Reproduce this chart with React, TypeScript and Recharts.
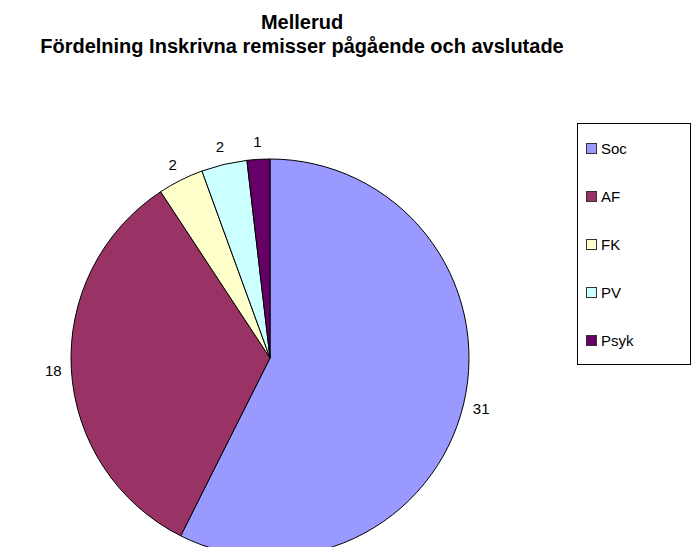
import React from "react";
import { PieChart, Pie, Cell } from "recharts";

const categories = ["Soc", "AF", "FK", "PV", "Psyk"];
const values = [31, 18, 2, 2, 1];
const colors = ["#9999FF", "#993366", "#FFFFCC", "#CCFFFF", "#660066"];
const titleLines = ["Mellerud", "Fördelning Inskrivna remisser pågående och avslutade"];

const data = categories.map((name, i) => ({ name, value: values[i] }));
const FONT = "'Liberation Sans', Arial, sans-serif";
const RAD = Math.PI / 180;

const renderLabel = (props: any) => {
  const { cx, cy, midAngle, outerRadius, value } = props;
  const r = outerRadius + 18;
  const x = cx + r * Math.cos(-midAngle * RAD);
  const y = cy + r * Math.sin(-midAngle * RAD);
  return (
    <text
      x={x}
      y={y}
      textAnchor="middle"
      dominantBaseline="central"
      fontFamily={FONT}
      fontSize={15}
      fill="#000"
    >
      {value}
    </text>
  );
};

export default function App() {
  return (
    <div style={{ position: "absolute", left: 0, top: 0, width: 700, height: 547, background: "#fff", overflow: "hidden" }}>
      <div
        style={{
          position: "absolute",
          left: 0,
          top: 10,
          width: 604,
          textAlign: "center",
          fontFamily: FONT,
          fontWeight: "bold",
          fontSize: 20,
          lineHeight: "24px",
          color: "#000",
        }}
      >
        {titleLines.map((t, i) => (
          <div key={i}>{t}</div>
        ))}
      </div>
      <PieChart width={700} height={547} style={{ position: "absolute", left: 0, top: 0 }}>
        <Pie
          data={data}
          dataKey="value"
          nameKey="name"
          cx={265}
          cy={353}
          outerRadius={199}
          startAngle={90}
          endAngle={-270}
          stroke="#000"
          strokeWidth={1}
          label={renderLabel}
          labelLine={false}
          isAnimationActive={false}
        >
          {data.map((d, i) => (
            <Cell key={d.name} fill={colors[i]} />
          ))}
        </Pie>
      </PieChart>
      <div
        style={{
          position: "absolute",
          left: 577,
          top: 123,
          width: 114,
          height: 242,
          border: "1px solid #000",
          boxSizing: "border-box",
          fontFamily: FONT,
          fontSize: 15,
          background: "#fff",
        }}
      >
        {categories.map((c, i) => (
          <div
            key={c}
            style={{
              position: "absolute",
              left: 8,
              top: 24 + 48 * i - 9,
              height: 18,
              display: "flex",
              alignItems: "center",
            }}
          >
            <span
              style={{
                display: "inline-block",
                width: 9,
                height: 9,
                border: "1px solid #333",
                background: colors[i],
                marginRight: 4,
              }}
            />
            <span style={{ color: "#000" }}>{c}</span>
          </div>
        ))}
      </div>
    </div>
  );
}
